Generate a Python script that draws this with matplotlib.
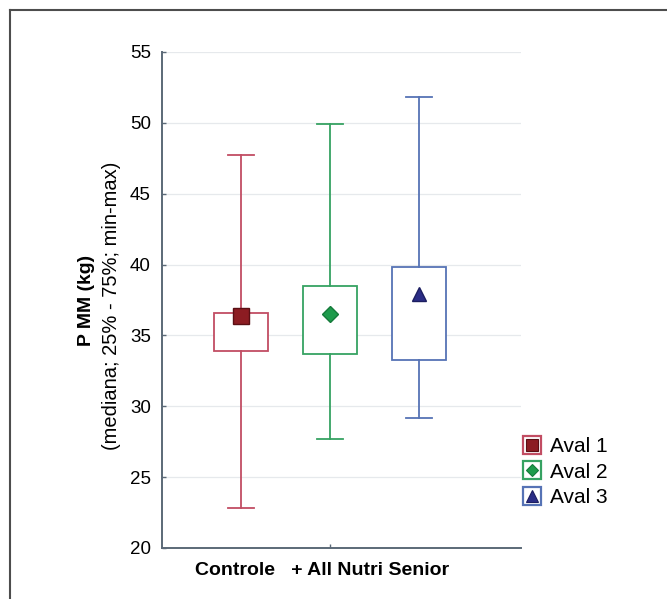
import numpy as np
import matplotlib.pyplot as plt
from matplotlib.lines import Line2D

plt.rcParams['font.family'] = ['Liberation Sans', 'DejaVu Sans']

# values (P MM, kg)
groups = ["Aval 1", "Aval 2", "Aval 3"]
mins = [22.8, 27.7, 29.2]
q1s = [33.9, 33.7, 33.3]
medians = [36.4, 36.5, 37.9]
q3s = [36.6, 38.5, 39.8]
maxs = [47.7, 49.9, 51.8]
x_label = "Controle   + All Nutri Senior"

box_colors = ["#c24d63", "#36a262", "#5673b5"]
mark_colors = ["#8c1c22", "#1e9b4c", "#2b2d86"]
mark_edges = ["#5a0f14", "#157a3a", "#1c1e60"]
markers = ["s", "D", "^"]
mark_sizes = [11, 8, 10]

fig = plt.figure(figsize=(6.67, 5.99), dpi=100)
ax = fig.add_axes([162 / 667, 1 - 548 / 599, (521 - 162) / 667, (548 - 52) / 599])

positions = np.arange(1, len(groups) + 1)
stats = []
for i, g in enumerate(groups):
    stats.append({"label": g, "whislo": mins[i], "q1": q1s[i], "med": medians[i],
                  "q3": q3s[i], "whishi": maxs[i], "fliers": []})

for i in range(len(groups)):
    c = box_colors[i]
    ax.bxp([stats[i]], positions=[positions[i]], widths=0.607, capwidths=0.29,
           showfliers=False, patch_artist=True,
           boxprops=dict(facecolor="white", edgecolor=c, linewidth=1.3),
           whiskerprops=dict(color=c, linewidth=1.3),
           capprops=dict(color=c, linewidth=1.3),
           medianprops=dict(linestyle="none"), zorder=3)
    ax.plot(positions[i], medians[i], marker=markers[i], ms=mark_sizes[i],
            mfc=mark_colors[i], mec=mark_edges[i], mew=1.0, ls="none", zorder=4)

ax.set_xlim(0.112, 4.146)
ax.set_ylim(20, 55)
ax.set_yticks(np.arange(20, 56, 5))
ax.set_xticks([2])
ax.set_xticklabels([""])
ax.grid(axis="y", color="#e6e9ec", linewidth=0.9, zorder=0)
ax.set_axisbelow(True)
for s in ["top", "right"]:
    ax.spines[s].set_visible(False)
for s in ["left", "bottom"]:
    ax.spines[s].set_color("#5b6977")
    ax.spines[s].set_linewidth(1.4)
ax.tick_params(axis="y", direction="in", length=3, width=1, color="#5b6977",
               labelsize=13.5, pad=8)
ax.tick_params(axis="x", direction="in", length=3, width=1, color="#5b6977")

ax.text(1.91, -0.045, x_label, transform=ax.get_xaxis_transform(),
        ha="center", va="center", fontsize=14, fontweight="bold")

fig.text(86 / 667, 1 - 300 / 599, "P MM (kg)", rotation=90, ha="center",
         va="center", fontsize=14, fontweight="bold")
fig.text(112 / 667, 1 - 306 / 599, "(mediana; 25% - 75%; min-max)", rotation=90,
         ha="center", va="center", fontsize=14.5)

handles = []
for i in range(len(groups)):
    outline = Line2D([], [], marker="s", ms=12.5, mfc="white", mec=box_colors[i],
                     mew=1.6, ls="none")
    inner = Line2D([], [], marker=markers[i], ms=mark_sizes[i] - 2, mfc=mark_colors[i],
                   mec=mark_edges[i], mew=0.8, ls="none")
    handles.append((outline, inner))
fig.legend(handles, groups, loc="center left", bbox_to_anchor=(522 / 667, 1 - 472 / 599),
           frameon=False, fontsize=15, handlelength=0.95, handletextpad=0.4,
           labelspacing=0.32, borderpad=0, borderaxespad=0)

# outer frame (top and left edges only)
fig.add_artist(Line2D([10 / 667, 10 / 667], [0, 1 - 10 / 599], color="#4d4d4d", lw=1.5,
                      transform=fig.transFigure))
fig.add_artist(Line2D([10 / 667, 1], [1 - 10 / 599, 1 - 10 / 599], color="#4d4d4d", lw=1.5,
                      transform=fig.transFigure))

fig.savefig("out.png", dpi=100)
